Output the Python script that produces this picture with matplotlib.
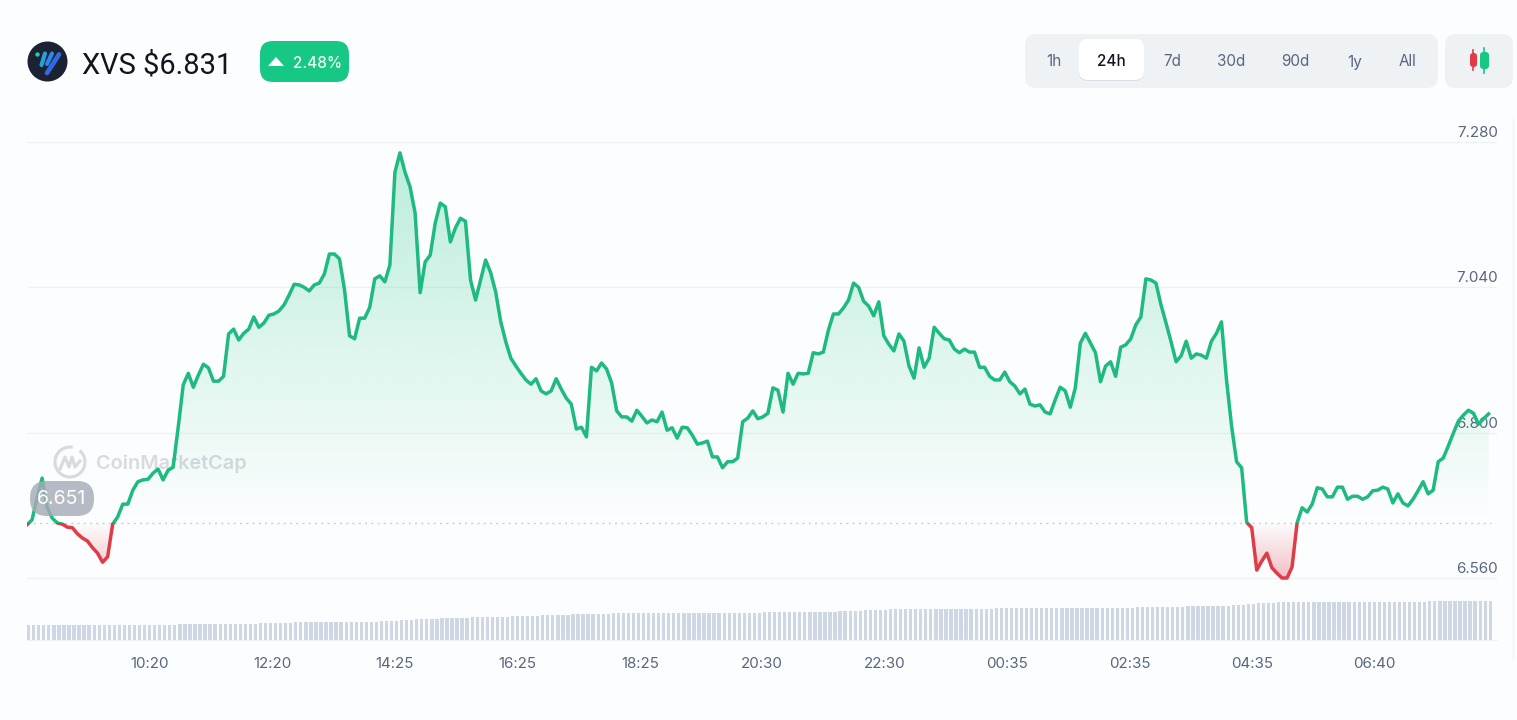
import numpy as np
import matplotlib
matplotlib.use('Agg')
import matplotlib.pyplot as plt
from matplotlib.patches import FancyBboxPatch, Circle, Arc, Polygon, Rectangle
from matplotlib.path import Path
from matplotlib.colors import to_rgb

# 5 minute closes over the 24h window
prices = [
    6.648, 6.656, 6.692, 6.725, 6.676, 6.659, 6.651, 6.649, 6.644, 6.643,
    6.633, 6.626, 6.621, 6.610, 6.601, 6.586, 6.595, 6.649, 6.661, 6.682,
    6.682, 6.705, 6.719, 6.722, 6.723, 6.733, 6.740, 6.722, 6.738, 6.743,
    6.809, 6.879, 6.898, 6.875, 6.895, 6.913, 6.907, 6.885, 6.885, 6.893,
    6.963, 6.971, 6.953, 6.964, 6.971, 6.991, 6.974, 6.981, 6.994, 6.996,
    7.001, 7.011, 7.027, 7.045, 7.044, 7.040, 7.034, 7.044, 7.047, 7.062,
    7.095, 7.095, 7.087, 7.036, 6.960, 6.955, 6.989, 6.989, 7.007, 7.054,
    7.059, 7.049, 7.077, 7.230, 7.262, 7.230, 7.206, 7.163, 7.031, 7.082,
    7.093, 7.146, 7.179, 7.173, 7.115, 7.138, 7.154, 7.149, 7.052, 7.019,
    7.052, 7.085, 7.064, 7.032, 6.983, 6.950, 6.923, 6.910, 6.898, 6.887,
    6.880, 6.889, 6.869, 6.864, 6.869, 6.889, 6.872, 6.857, 6.847, 6.806,
    6.809, 6.793, 6.908, 6.902, 6.915, 6.905, 6.882, 6.836, 6.826, 6.826,
    6.819, 6.837, 6.827, 6.816, 6.821, 6.818, 6.834, 6.804, 6.808, 6.791,
    6.809, 6.808, 6.796, 6.781, 6.783, 6.786, 6.760, 6.760, 6.742, 6.752,
    6.752, 6.758, 6.818, 6.824, 6.836, 6.823, 6.826, 6.832, 6.874, 6.870,
    6.834, 6.898, 6.880, 6.898, 6.897, 6.898, 6.932, 6.930, 6.933, 6.969,
    6.996, 6.996, 7.006, 7.019, 7.047, 7.040, 7.017, 7.009, 6.993, 7.016,
    6.960, 6.946, 6.935, 6.963, 6.951, 6.910, 6.890, 6.940, 6.908, 6.923,
    6.974, 6.964, 6.955, 6.953, 6.938, 6.932, 6.938, 6.933, 6.933, 6.908,
    6.908, 6.893, 6.887, 6.887, 6.900, 6.884, 6.877, 6.864, 6.872, 6.847,
    6.844, 6.846, 6.834, 6.831, 6.854, 6.875, 6.869, 6.842, 6.874, 6.948,
    6.964, 6.948, 6.932, 6.884, 6.910, 6.917, 6.893, 6.941, 6.945, 6.955,
    6.978, 6.991, 7.054, 7.052, 7.047, 7.011, 6.981, 6.950, 6.917, 6.927,
    6.951, 6.923, 6.930, 6.928, 6.923, 6.951, 6.964, 6.983, 6.887, 6.811,
    6.752, 6.742, 6.652, 6.643, 6.573, 6.588, 6.601, 6.577, 6.568, 6.560,
    6.560, 6.578, 6.651, 6.676, 6.669, 6.682, 6.709, 6.707, 6.694, 6.694,
    6.710, 6.710, 6.690, 6.695, 6.695, 6.690, 6.694, 6.704, 6.705, 6.710,
    6.707, 6.684, 6.699, 6.684, 6.679, 6.690, 6.704, 6.719, 6.699, 6.705,
    6.752, 6.758, 6.778, 6.799, 6.819, 6.829, 6.837, 6.832, 6.814, 6.823,
    6.831,
]

# rolling volume, relative units
volumes = [
    15, 15, 15, 15, 15, 15, 15, 15, 15, 15, 15, 15, 15, 15, 15, 15, 15, 15, 15, 15,
    15, 15.2, 15.2, 15.2, 15.3, 15.3, 15.4, 15.5, 15.5, 15.5, 15.6, 15.6, 15.7, 15.8, 15.8, 15.9, 16, 16, 16, 16,
    16, 16.1, 16.2, 16.3, 16.4, 16.5, 16.6, 16.7, 16.8, 16.9, 17, 17.2, 17.4, 17.6, 17.8, 18, 18, 18, 18, 18,
    18, 18, 18, 18, 18, 18, 18, 18, 18, 18.3, 18.6, 18.9, 19.2, 19.5, 19.8, 20, 20.3, 20.6, 20.8, 21,
    21.2, 21.4, 21.6, 21.8, 22, 22.2, 22.3, 22.5, 22.6, 22.8, 23, 23.1, 23.2, 23.3, 23.4, 23.5, 23.6, 23.7, 23.8, 24,
    24.2, 24.4, 24.6, 24.8, 25, 25.1, 25.3, 25.4, 25.6, 25.7, 25.8, 26, 26.1, 26.2, 26.4, 26.5, 26.6, 26.7, 26.8, 27,
    27, 27, 27, 27, 27, 27, 27, 27, 27, 27, 27, 27, 27, 27, 27, 27, 27, 27, 27, 27,
    27.1, 27.2, 27.3, 27.4, 27.5, 27.5, 27.6, 27.6, 27.7, 27.7, 27.8, 27.8, 27.9, 27.9, 28, 28, 28.1, 28.2, 28.3, 28.4,
    28.5, 28.7, 28.9, 29.1, 29.3, 29.5, 29.7, 29.9, 30.1, 30.3, 30.5, 30.6, 30.7, 30.8, 30.9, 31, 31, 31, 31, 31,
    31, 31, 31.1, 31.1, 31.2, 31.2, 31.3, 31.3, 31.4, 31.4, 31.5, 31.5, 31.6, 31.6, 31.7, 31.7, 31.8, 31.8, 31.9, 32,
    32, 32, 32, 32, 32, 32.1, 32.1, 32.1, 32.2, 32.2, 32.2, 32.3, 32.3, 32.3, 32.4, 32.4, 32.4, 32.5, 32.5, 32.5,
    32.6, 32.7, 32.8, 32.9, 33, 33.1, 33.2, 33.3, 33.4, 33.5, 33.6, 33.7, 33.8, 33.9, 34, 34.1, 34.2, 34.3, 34.4, 34.6,
    35, 35.4, 35.8, 36.2, 36.6, 37, 37.2, 37.4, 37.6, 37.8, 38, 38, 38, 38, 38, 38, 38, 38, 38, 38,
    38, 38, 38, 38, 38, 38, 38, 38, 38.1, 38.1, 38.2, 38.2, 38.3, 38.3, 38.4, 38.4, 38.5, 38.5, 38.6, 38.6,
    38.7, 38.7, 38.8, 38.8, 38.9, 38.9, 39, 39, 39, 39, 39,
]

open_price = 6.651
price_ticks = [6.56, 6.80, 7.04, 7.28]
price_tick_labels = ['6.560', '6.800', '7.040', '7.280']
time_tick_pos = [24.4, 48.6, 73.0, 97.3, 121.6, 145.8, 170.1, 194.4, 218.8, 243.0, 267.3]
time_tick_labels = ['10:20', '12:20', '14:25', '16:25', '18:25', '20:30',
                    '22:30', '00:35', '02:35', '04:35', '06:40']
ranges = ['1h', '24h', '7d', '30d', '90d', '1y', 'All']
range_x = [1054, 1111, 1172, 1231, 1295, 1355, 1407]

BG = '#fcfdfe'
GREEN = '#1fba80'
RED = '#e03c48'
GREY_TEXT = '#58667e'
GRID = '#eff2f5'

W, H = 1517, 720
plt.rcParams['font.family'] = ['Inter', 'DejaVu Sans']
fig = plt.figure(figsize=(W / 100, H / 100), dpi=100, facecolor=BG)


def axes_px(left, top, right, bottom, z):
    ax = fig.add_axes([left / W, 1 - bottom / H, (right - left) / W, (bottom - top) / H], zorder=z)
    ax.patch.set_alpha(0)
    return ax


def rbox(ax, x0, y0, x1, y1, r, **kw):
    p = FancyBboxPatch((x0 + r, y0 + r), x1 - x0 - 2 * r, y1 - y0 - 2 * r,
                       boxstyle='round,pad=%g,rounding_size=%g' % (r, r), linewidth=0, **kw)
    ax.add_patch(p)
    return p


# pixel layer behind the chart: header, buttons, watermark
back = axes_px(0, 0, W, H, 0)
back.set_xlim(0, W)
back.set_ylim(H, 0)
back.axis('off')

back.add_patch(Circle((47.5, 61.5), 20, color='#1b2232', lw=0))
back.add_patch(Circle((37.5, 54.5), 2.2, color='#2ec4b6', lw=0))
back.plot([45, 41.5], [53.5, 65], color='#2a9fe0', lw=3, solid_capstyle='round')
back.plot([52, 47], [53.5, 64], color='#2f86e8', lw=3, solid_capstyle='round')
back.plot([59, 47], [54.5, 73], color='#3169e0', lw=3.4, solid_capstyle='round')
back.text(82, 65, 'XVS $6.831', fontsize=20.9, family=['Roboto'], color='#10151f', va='center', ha='left')

rbox(back, 260, 41, 349, 82, 13, color='#17c784')
back.add_patch(Polygon([[268, 66], [276, 57], [284, 66]], closed=True, color='white', lw=0, joinstyle='round'))
back.text(317.5, 63, '2.48%', fontsize=11, color='#eefbf5', weight='medium', va='center', ha='center')

rbox(back, 1025, 34, 1438, 88, 11, color='#eff2f5')
rbox(back, 1079, 40, 1144, 81, 9, color='#d9dee6')
rbox(back, 1079, 39, 1144, 80, 9, color='white')
for lab, x in zip(ranges, range_x):
    back.text(x, 62, lab, fontsize=11, va='center', ha='center',
              color='#10151f' if lab == '24h' else GREY_TEXT,
              weight='medium' if lab == '24h' else 'normal')

rbox(back, 1445, 34, 1513, 88, 11, color='#eff2f5')
back.plot([1473.5, 1473.5], [50, 70], color=RED, lw=1.2)
rbox(back, 1470, 53, 1477, 67, 3, color=RED)
back.plot([1484.5, 1484.5], [48, 73], color='#17c784', lw=1.2)
rbox(back, 1480, 52, 1489, 69, 3.5, color='#17c784')

# card edge on the right
back.plot([1513, 1513], [118, 660], color='#f3f4f7', lw=1)

wm = '#d6dae1'
back.add_patch(Arc((70, 462), 30, 30, theta1=-50, theta2=280, color=wm, lw=2.2))
back.plot([60, 65, 69, 72, 75, 80], [469, 457, 467, 457, 467, 461], color=wm, lw=2.2, solid_joinstyle='round')
back.text(96, 464, 'CoinMarketCap', fontsize=14.3, weight='semibold', color=wm, va='center', ha='left')

# price line
x = np.arange(len(prices))
y = np.array(prices)
x_max = 1470 / 5.04
ax = axes_px(27, 120, 1497, 600, 1)
ax.set_axisbelow(True)
ylim = (6.56 - 22 / 605.6, 6.56 + 458 / 605.6)


def gradient_fill(color, a_start, a_end, y0, y1, mask):
    # vertical alpha ramp from y0 to y1, cut to the area between line and open price
    poly = ax.fill_between(x, y, open_price, where=mask, interpolate=True, facecolor='none', linewidth=0)
    clip = Path.make_compound_path(*poly.get_paths())
    img = np.zeros((256, 1, 4))
    img[:, :, :3] = to_rgb(color)
    img[:, 0, 3] = np.linspace(a_start, a_end, 256)
    im = ax.imshow(img, aspect='auto', origin='upper', extent=(0, x_max, y1, y0), zorder=1, interpolation='bilinear')
    im.set_clip_path(clip, transform=ax.transData)


gradient_fill('#16c784', 0.3, 0.0, ylim[1] - 0.02, open_price, y >= open_price)
gradient_fill(RED, 0.0, 0.32, open_price, 6.56, y <= open_price)

ax.set_xlim(0, x_max)
ax.set_ylim(*ylim)

line_up, = ax.plot(x, y, color=GREEN, lw=2.5, solid_joinstyle='round', zorder=3)
line_up.set_clip_path(Rectangle((0, open_price), x_max, 2, transform=ax.transData))
line_dn, = ax.plot(x, y, color=RED, lw=2.5, solid_joinstyle='round', zorder=3)
line_dn.set_clip_path(Rectangle((0, open_price - 2), x_max, 2, transform=ax.transData))

ax.plot([0, 290.5], [open_price, open_price], color='#c9ced8', lw=1, ls=(0, (1.5, 3)), zorder=2)

ax.set_yticks(price_ticks)
ax.set_xticks([])
ax.tick_params(left=False, labelleft=False)
ax.grid(axis='y', color=GRID, lw=1)
for s in ax.spines.values():
    s.set_visible(False)
for v, lab in zip(price_ticks, price_tick_labels):
    ax.annotate(lab, xy=(x_max, v), xytext=(1, 2), textcoords='offset pixels', ha='right', va='bottom',
                fontsize=10.9, color=GREY_TEXT, zorder=1.5)

# volume strip under the price line
vol = axes_px(27, 590, 1497, 640, 1)
vol.bar(x, volumes, width=0.66, align='edge', color='#cfd6e4', linewidth=0)
vol.set_xlim(0, x_max)
vol.set_ylim(0, 50)
vol.set_yticks([])
vol.set_xticks(time_tick_pos)
vol.set_xticklabels(time_tick_labels, fontsize=10.9, color=GREY_TEXT)
vol.tick_params(axis='x', length=0, pad=12)
for name, s in vol.spines.items():
    s.set_visible(name == 'bottom')
    s.set_color(GRID)

# open price badge sits on top of the line
top = axes_px(0, 0, W, H, 2)
top.set_xlim(0, W)
top.set_ylim(H, 0)
top.axis('off')
rbox(top, 30, 481, 94, 516, 17, color='#a6abb8', alpha=0.82)
top.text(62, 499, '6.651', fontsize=14, color='white', va='center', ha='center')

fig.savefig('out.png', dpi=100, facecolor=BG)
